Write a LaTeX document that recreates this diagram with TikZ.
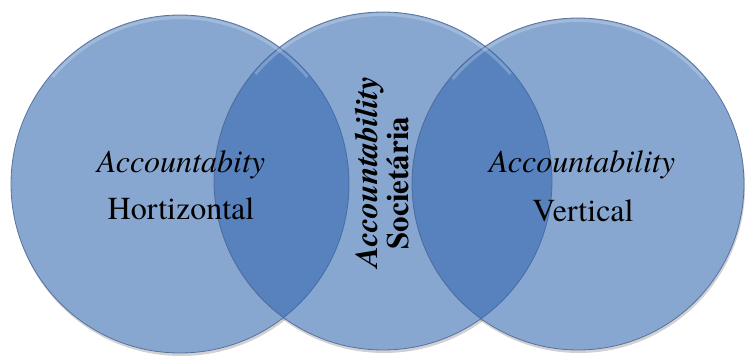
\documentclass[tikz,border=0pt]{standalone}
\usepackage{fontspec}
\setmainfont{texgyretermes}[
  Extension=.otf,
  UprightFont=*-regular,
  BoldFont=*-bold,
  ItalicFont=*-italic,
  BoldItalicFont=*-bolditalic]
\definecolor{vennblue}{RGB}{53,105,176}
\definecolor{vennedge}{RGB}{72,100,148}

\begin{document}
\begin{tikzpicture}[x=1pt,y=1pt,
    venn/.style={fill=vennblue, fill opacity=0.585, draw=vennedge, draw opacity=0.85, line width=0.8pt},
    vshadow/.style={fill=black, fill opacity=0.18},
    rim/.style={draw=white, draw opacity=0.22, line width=3pt},
    lbl/.style={font=\fontsize{32}{38}\selectfont, text=black, inner sep=0pt, anchor=base}]
  \useasboundingbox (0,0) rectangle (745,356);

  % soft shadow under the three sets, then white to keep only the rim
  \fill[vshadow] (181,169) circle (169pt);
  \fill[vshadow] (384,172) circle (169pt);
  \fill[vshadow] (579,169) circle (166pt);
  \fill[white] (180,172) circle (169pt) (383,175) circle (169pt) (578,172) circle (166pt);

  \draw[venn] (180,172) circle (169pt);
  \draw[venn] (383,175) circle (169pt);
  \draw[venn] (578,172) circle (166pt);

  % light bevel along the top edges
  \draw[rim] (180,172) ++(40:166.5pt) arc[start angle=40, end angle=140, radius=166.5pt];
  \draw[rim] (383,175) ++(40:166.5pt) arc[start angle=40, end angle=140, radius=166.5pt];
  \draw[rim] (578,172) ++(40:163.5pt) arc[start angle=40, end angle=140, radius=163.5pt];

  \node[lbl] (hor1) at (181,183) {\itshape Accountabity};
  \node[lbl] (hor2) at (181,136) {Hortizontal};

  \node[lbl, rotate=90] (soc1) at (377,184) {\bfseries\itshape Accountability};
  \node[lbl, rotate=90, font=\fontsize{31}{37}\selectfont] (soc2) at (408,173) {\bfseries Societária};

  \node[lbl] (ver1) at (582,183) {\itshape Accountability};
  \node[lbl] (ver2) at (583,134) {Vertical};
\end{tikzpicture}
\end{document}
